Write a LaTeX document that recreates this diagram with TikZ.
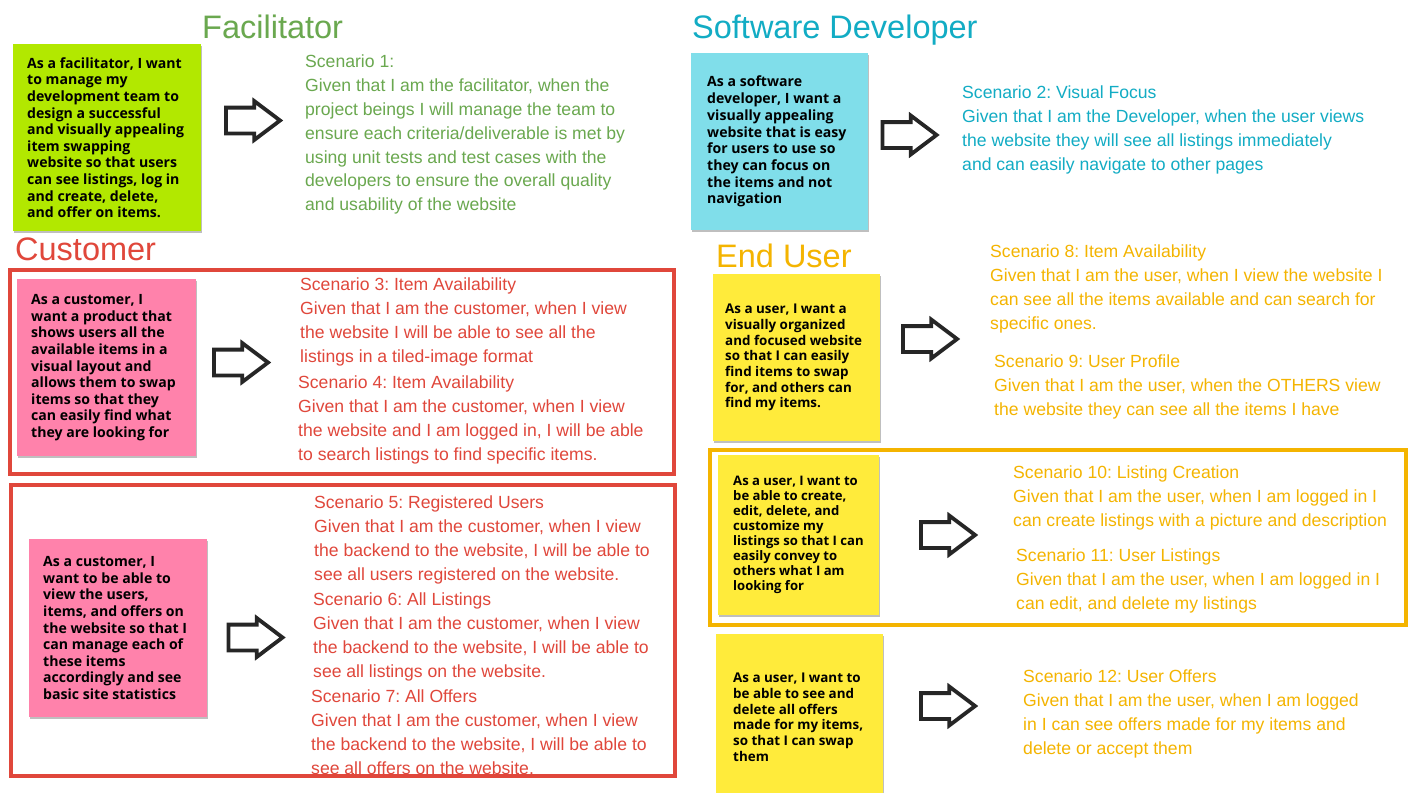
\documentclass[tikz,border=0pt]{standalone}
\usepackage{fontspec}
\setmainfont{Liberation Sans}
\newfontfamily\notefont{Open Sans}
\usetikzlibrary{shapes.arrows,shadows}
\frenchspacing

\definecolor{facgreen}{HTML}{6AA84F}
\definecolor{devteal}{HTML}{12ACC4}
\definecolor{custred}{HTML}{E0473B}
\definecolor{userorange}{HTML}{F4B400}
\definecolor{notegreen}{HTML}{B2E800}
\definecolor{notecyan}{HTML}{80DEEA}
\definecolor{notepink}{HTML}{FF82AB}
\definecolor{noteyellow}{HTML}{FFEB3B}

\tikzset{
  x=1pt, y=-1pt,
  title/.style={anchor=base west, inner sep=0pt, font=\fontsize{32.5}{37}\selectfont, text=#1},
  scen/.style={anchor=north west, inner sep=0pt, align=left,
               font=\fontsize{17.6}{23.8}\selectfont, text=#1},
  stickynote/.style={fill=#1, anchor=north west, inner sep=0pt,
               drop shadow={shadow xshift=0.6pt, shadow yshift=-1.8pt, opacity=0.25, fill=black}},
  notetext/.style 2 args={anchor=west, inner sep=0pt, align=left,
               font=\notefont\bfseries\fontsize{#1}{#2}\selectfont},
  group/.style={draw=#1, line width=4pt},
  blockarrow/.style={single arrow, draw=black!85, fill=white, line width=3.8pt,
               line join=miter, minimum height=54pt, inner xsep=0pt, inner ysep=11pt,
               text height=0pt, text depth=0pt, single arrow head extend=6.5pt,
               single arrow tip angle=74},
}

\begin{document}
\begin{tikzpicture}
\clip (0,0) rectangle (1412,792);
\fill[white] (0,0) rectangle (1412,792);

% ---- role headings
\node[title=facgreen]   (hfac)  at (202,39)  {Facilitator};
\node[title=devteal]    (hdev)  at (692,39)  {Software Developer};
\node[title=custred]    (hcust) at (15,260)  {Customer};
\node[title=userorange] (huser) at (716,267) {End User};

% ---- grouping frames
\draw[group=custred]    (10,269.5) rectangle (673.5,474);
\draw[group=custred]    (11,485)   rectangle (675,776);
\draw[group=userorange] (710,450)  rectangle (1406,625);

% ---- user story notes
\node[stickynote=notegreen, minimum width=188pt, minimum height=187pt] (nfac) at (13,44) {};
\node[notetext={14.1}{16.6}] (tfac) at ([xshift=14pt]nfac.west) {As a facilitator, I want\\to manage my\\development team to\\design a successful\\and visually appealing\\item swapping\\website so that users\\can see listings, log in\\and create, delete,\\and offer on items.};

\node[stickynote=notecyan, minimum width=177pt, minimum height=177pt] (ndev) at (691,53) {};
\node[notetext={14.1}{16.7}] (tdev) at ([xshift=16pt]ndev.west) {As a software\\developer, I want a\\visually appealing\\website that is easy\\for users to use so\\they can focus on\\the items and not\\navigation};

\node[stickynote=notepink, minimum width=179pt, minimum height=177pt] (ncusta) at (17,279) {};
\node[notetext={14.1}{16.6}] (tcusta) at ([xshift=14pt]ncusta.west) {As a customer, I\\want a product that\\shows users all the\\available items in a\\visual layout and\\allows them to swap\\items so that they\\can easily find what\\they are looking for};

\node[stickynote=notepink, minimum width=178pt, minimum height=178pt] (ncustb) at (29,539) {};
\node[notetext={14.1}{16.6}] (tcustb) at ([xshift=14pt]ncustb.west) {As a customer, I\\want to be able to\\view the users,\\items, and offers on\\the website so that I\\can manage each of\\these items\\accordingly and see\\basic site statistics};

\node[stickynote=noteyellow, minimum width=167pt, minimum height=167pt] (nusera) at (713,274) {};
\node[notetext={13.4}{15.7}] (tusera) at ([xshift=12pt]nusera.west) {As a user, I want a\\visually organized\\and focused website\\so that I can easily\\find items to swap\\for, and others can\\find my items.};

\node[stickynote=noteyellow, minimum width=161pt, minimum height=160pt] (nuserb) at (718,455) {};
\node[notetext={13.1}{15}] (tuserb) at ([xshift=15pt]nuserb.west) {As a user, I want to\\be able to create,\\edit, delete, and\\customize my\\listings so that I can\\easily convey to\\others what I am\\looking for};

\node[stickynote=noteyellow, minimum width=167pt, minimum height=166pt] (nuserc) at (716,634) {};
\node[notetext={13.4}{15.8}] (tuserc) at ([xshift=17pt]nuserc.west) {As a user, I want to\\be able to see and\\delete all offers\\made for my items,\\so that I can swap\\them};

% ---- block arrows from stories to scenarios
\node[blockarrow] (afac)   at (244.5,120.5) {};
\node[blockarrow] (adev)   at (901,135)     {};
\node[blockarrow] (acusta) at (232.5,362.5) {};
\node[blockarrow] (acustb) at (247,637.5)   {};
\node[blockarrow] (ausera) at (921.5,339)   {};
\node[blockarrow] (auserb) at (939.5,535)   {};
\node[blockarrow] (auserc) at (939.5,706)   {};

% ---- scenarios
\node[scen=facgreen] (s1) at (305,55) {Scenario 1:\\Given that I am the facilitator, when the\\project beings I will manage the team to\\ensure each criteria/deliverable is met by\\using unit tests and test cases with the\\developers to ensure the overall quality\\and usability of the website};

\node[scen=devteal] (s2) at (962,86) {Scenario 2: Visual Focus\\Given that I am the Developer, when the user views\\the website they will see all listings immediately\\and can easily navigate to other pages};

\node[scen=custred] (s3) at (300,278) {Scenario 3: Item Availability\\Given that I am the customer, when I view\\the website I will be able to see all the\\listings in a tiled-image format};
\node[scen=custred] (s4) at (298,376) {Scenario 4: Item Availability\\Given that I am the customer, when I view\\the website and I am logged in, I will be able\\to search listings to find specific items.};

\node[scen=custred] (s5) at (314,496) {Scenario 5: Registered Users\\Given that I am the customer, when I view\\the backend to the website, I will be able to\\see all users registered on the website.};
\node[scen=custred] (s6) at (313,593) {Scenario 6: All Listings\\Given that I am the customer, when I view\\the backend to the website, I will be able to\\see all listings on the website.};
\node[scen=custred] (s7) at (311,690) {Scenario 7: All Offers\\Given that I am the customer, when I view\\the backend to the website, I will be able to\\see all offers on the website.};

\node[scen=userorange] (s8) at (990,245) {Scenario 8: Item Availability\\Given that I am the user, when I view the website I\\can see all the items available and can search for\\specific ones.};
\node[scen=userorange] (s9) at (994,355) {Scenario 9: User Profile\\Given that I am the user, when the OTHERS view\\the website they can see all the items I have};

\node[scen=userorange] (s10) at (1013,466) {Scenario 10: Listing Creation\\Given that I am the user, when I am logged in I\\can create listings with a picture and description};
\node[scen=userorange] (s11) at (1016,549) {Scenario 11: User Listings\\Given that I am the user, when I am logged in I\\can edit, and delete my listings};

\node[scen=userorange] (s12) at (1023,670) {Scenario 12: User Offers\\Given that I am the user, when I am logged\\in I can see offers made for my items and\\delete or accept them};
\end{tikzpicture}
\end{document}
